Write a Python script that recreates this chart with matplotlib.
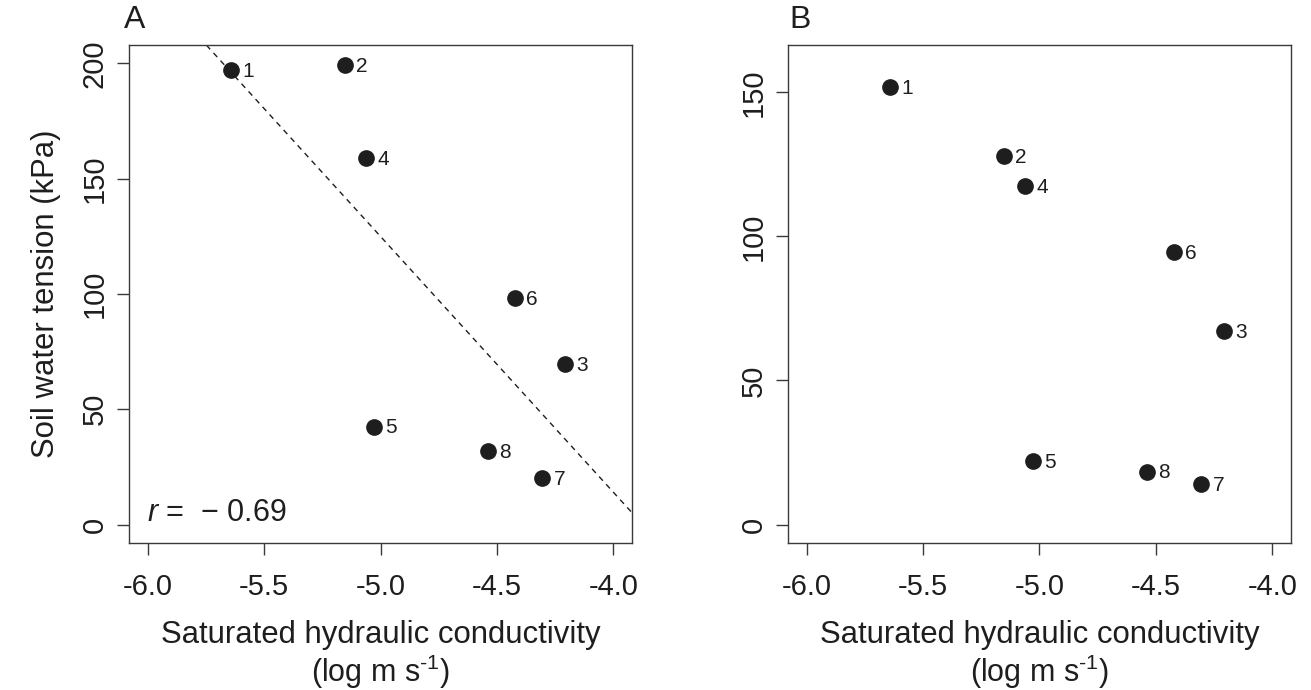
import numpy as np
import matplotlib
matplotlib.use("Agg")
import matplotlib.pyplot as plt

plt.rcParams["font.family"] = ["Liberation Sans", "DejaVu Sans"]
plt.rcParams["mathtext.fontset"] = "custom"
plt.rcParams["mathtext.rm"] = "Liberation Sans"
plt.rcParams["mathtext.it"] = "Liberation Sans:italic"

# site labels and values
sites = ["1", "2", "3", "4", "5", "6", "7", "8"]
log_ksat = [-5.64, -5.153, -4.206, -5.062, -5.028, -4.421, -4.305, -4.538]
tension_a = [197.1, 199.3, 69.5, 158.9, 42.5, 98.1, 20.0, 31.7]
tension_b = [151.7, 127.9, 67.1, 117.4, 21.9, 94.5, 13.9, 18.4]
r_text = "$\\mathit{r}$ =  − 0.69"

xticks = [-6.0, -5.5, -5.0, -4.5, -4.0]
yticks_a = [0, 50, 100, 150, 200]
yticks_b = [0, 50, 100, 150]

ink = "#1e1e1e"
axcol = "#3a3a3a"

fig = plt.figure(figsize=(13.11, 6.9), dpi=100)
ax_a = fig.add_axes([129 / 1311, 1 - 543 / 690, 503 / 1311, 498 / 690])
ax_b = fig.add_axes([788 / 1311, 1 - 543 / 690, 503 / 1311, 498 / 690])


def style_axes(ax, yticks, ylim):
    ax.set_xlim(-6.08, -3.92)
    ax.set_ylim(ylim[0] - 0.04 * (ylim[1] - ylim[0]), ylim[1] + 0.04 * (ylim[1] - ylim[0]))
    ax.set_xticks(xticks)
    ax.set_xticklabels([f"{t:.1f}" for t in xticks])
    ax.set_yticks(yticks)
    ax.set_yticklabels([str(t) for t in yticks], rotation=90, va="center")
    ax.tick_params(axis="x", length=8.6, width=1.0, color=axcol, pad=13, labelsize=21, labelcolor=ink)
    ax.tick_params(axis="y", length=8.6, width=1.0, color=axcol, pad=6, labelsize=21, labelcolor=ink)
    for s in ax.spines.values():
        s.set_color(axcol)
        s.set_linewidth(1.0)
    ax.text(0.5, -0.184, "Saturated hydraulic conductivity", transform=ax.transAxes,
            ha="center", va="center", fontsize=22.4, color=ink)
    ax.text(0.5, -0.258, "(log m s$^{\u2010 1}$)", transform=ax.transAxes,
            ha="center", va="center", fontsize=22, color=ink)


def draw_points(ax, y):
    ax.plot(log_ksat, y, "o", color=ink, markersize=11, linestyle="none")
    for lab, xv, yv in zip(sites, log_ksat, y):
        ax.annotate(lab, (xv, yv), xytext=(8, -1), textcoords="offset points",
                    ha="left", va="center", fontsize=15, color=ink)


# panel A
style_axes(ax_a, yticks_a, (0, 200))
draw_points(ax_a, tension_a)
slope, icept = np.polyfit(log_ksat, tension_a, 1)
xl = np.array([-6.08, -3.92])
ax_a.plot(xl, icept + slope * xl, linestyle=(0, (4, 3.5)), color=ink, linewidth=1.0)
ax_a.text(0.036, 0.06, r_text, transform=ax_a.transAxes, ha="left", va="center",
          fontsize=22, color=ink)
ax_a.set_ylabel("Soil water tension (kPa)", fontsize=22.4, color=ink, labelpad=14)
fig.text(135 / 1311, 1 - 20 / 690, "A", ha="center", va="center", fontsize=23, color=ink)

# panel B
style_axes(ax_b, yticks_b, (0, 160))
draw_points(ax_b, tension_b)
fig.text(800 / 1311, 1 - 20 / 690, "B", ha="center", va="center", fontsize=23, color=ink)

fig.savefig("out.png", dpi=100)
